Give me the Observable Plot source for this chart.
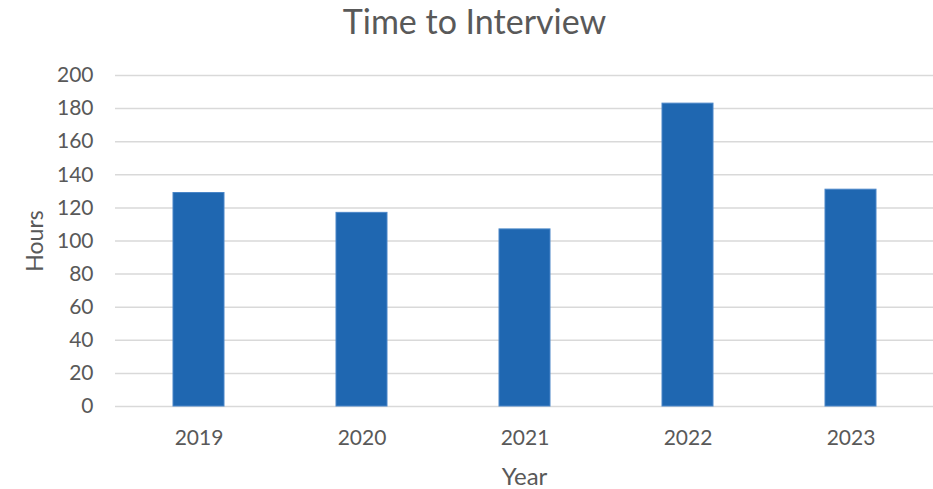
<!DOCTYPE html>
<html>
<head>
<meta charset="utf-8">
<script src="https://cdn.jsdelivr.net/npm/d3@7"></script>
<script src="https://cdn.jsdelivr.net/npm/@observablehq/plot@0.6"></script>
<style>
  html, body { margin: 0; padding: 0; background: #fff; }
  body { width: 933px; height: 489px; overflow: hidden; font-family: Lato, "Open Sans", sans-serif; }
  #title { height: 60px; line-height: 42px; text-align: center; font-size: 34px; color: #595959; padding-left: 16px; box-sizing: border-box; }
  svg { display: block; }
</style>
</head>
<body>
<div id="title">Time to Interview</div>
<div id="chart"></div>
<script>
const years = ["2019", "2020", "2021", "2022", "2023"];
const hours = [129, 117, 107, 183, 131];
const yTicks = [0, 20, 40, 60, 80, 100, 120, 140, 160, 180, 200];

const data = years.map((y, i) => ({year: y, hours: hours[i]}));

const chart = Plot.plot({
  width: 933,
  height: 429,
  marginTop: 15,
  marginBottom: 83,
  marginLeft: 115,
  marginRight: 0,
  style: {fontFamily: "Lato, 'Open Sans', sans-serif", fontSize: "21px", color: "#595959", background: "#fff"},
  x: {domain: years, paddingInner: 0.688, paddingOuter: 0.344, label: null},
  y: {domain: [0, 200], ticks: yTicks, label: null},
  marks: [
    Plot.gridY(yTicks, {stroke: "#d9d9d9", strokeOpacity: 1, strokeWidth: 1.5}),
    Plot.axisY(yTicks, {tickSize: 0, tickPadding: 22, fontSize: 21, fill: "#595959", label: null}),
    Plot.axisX({tickSize: 0, tickPadding: 24, fontSize: 21, fill: "#595959", label: null}),
    Plot.barY(data, {x: "year", y: "hours", fill: "#1f67b1", stroke: "#4a86c8", strokeWidth: 1}),
    Plot.text(["Hours"], {frameAnchor: "left", textAnchor: "middle", dx: -80, rotate: -90, fontSize: 23, fill: "#595959"}),
    Plot.text(["Year"], {frameAnchor: "bottom", dy: 78, fontSize: 24, fill: "#595959"})
  ]
});
document.getElementById("chart").appendChild(chart);
</script>
</body>
</html>
